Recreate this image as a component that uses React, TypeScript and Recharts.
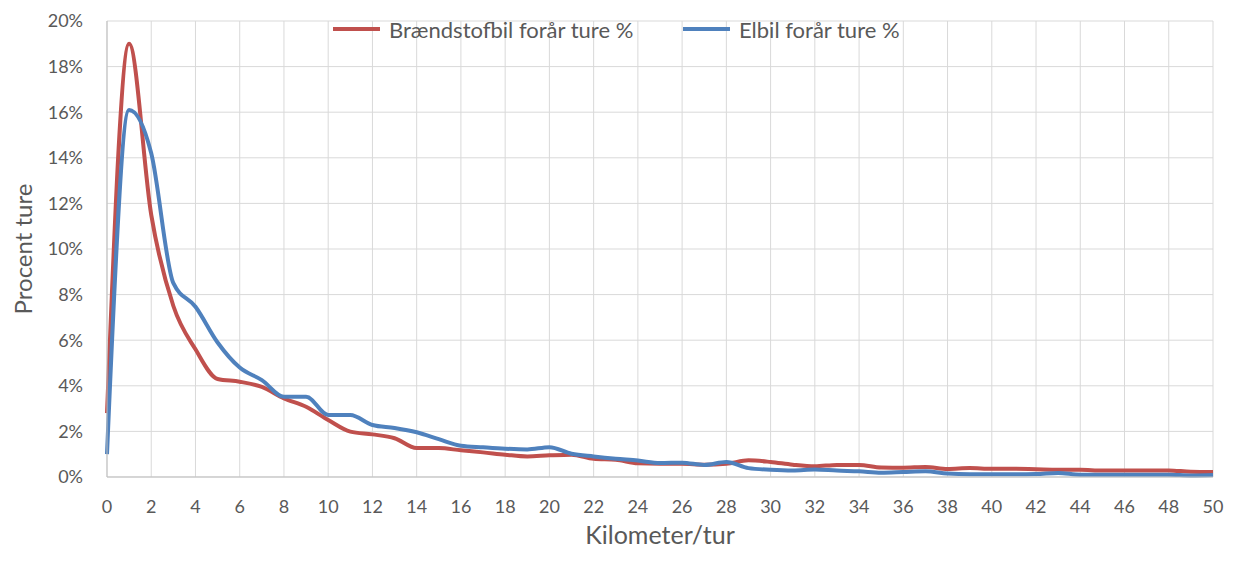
import React from "react";
import { LineChart, Line, XAxis, YAxis, CartesianGrid, Legend, Label } from "recharts";

const km = [0,1,2,3,4,5,6,7,8,9,10,11,12,13,14,15,16,17,18,19,20,21,22,23,24,25,26,27,28,29,30,31,32,33,34,35,36,37,38,39,40,41,42,43,44,45,46,47,48,49,50];
const braendstof = [2.8,19.0,11.5,7.5,5.6,4.3,4.18,3.95,3.45,3.08,2.5,1.99,1.87,1.7,1.27,1.27,1.17,1.08,0.98,0.9,0.95,0.98,0.8,0.76,0.6,0.58,0.58,0.54,0.58,0.73,0.66,0.54,0.47,0.53,0.53,0.42,0.41,0.44,0.35,0.39,0.36,0.36,0.34,0.32,0.32,0.28,0.28,0.29,0.29,0.23,0.22];
const elbil = [1.0,16.1,14.2,8.5,7.47,5.9,4.8,4.25,3.52,3.52,2.72,2.72,2.28,2.15,1.96,1.66,1.37,1.3,1.24,1.21,1.31,1.02,0.9,0.8,0.72,0.61,0.63,0.53,0.66,0.39,0.32,0.29,0.33,0.28,0.25,0.19,0.22,0.25,0.15,0.12,0.12,0.12,0.13,0.18,0.1,0.1,0.1,0.1,0.1,0.07,0.09];
const xTicks = [0,2,4,6,8,10,12,14,16,18,20,22,24,26,28,30,32,34,36,38,40,42,44,46,48,50];
const yTicks = [0,2,4,6,8,10,12,14,16,18,20];
const xDomain = [0, 50];
const seriesNames = ["Brændstofbil forår ture %", "Elbil forår ture %"];
const colors = ["#C0504D", "#4F81BD"];

const data = km.map((k, i) => ({ km: k, a: braendstof[i], b: elbil[i] }));

const FONT = "Lato, 'Open Sans', sans-serif";
const TXT = "#595959";

const verticalGen = (p: any) => {
  const s = p?.xAxis?.scale;
  if (typeof s === "function") return xTicks.map((t) => s(t));
  if (s && typeof s.map === "function") return xTicks.map((t) => s.map(t));
  const o = p.offset;
  return xTicks.map((t) => o.left + ((t - xDomain[0]) / (xDomain[1] - xDomain[0])) * o.width);
};

const LegendContent = () => (
  <div style={{ position: "relative", width: 600, height: 26, fontFamily: FONT, fontSize: 22, color: TXT }}>
    {seriesNames.map((n, i) => (
      <div key={n} style={{ position: "absolute", left: i === 0 ? 0 : 350, top: 0, display: "flex", alignItems: "center", height: 26, whiteSpace: "nowrap" }}>
        <div style={{ width: 47, height: 4, background: colors[i], marginRight: 9 }} />
        <span>{n}</span>
      </div>
    ))}
  </div>
);

export default function App() {
  return (
    <div style={{ width: 1221, height: 546, position: "relative" }}>
      <LineChart width={1221} height={546} data={data} margin={{ top: 13, right: 16, bottom: 17, left: 0 }}>
        <CartesianGrid stroke="#D9D9D9" strokeWidth={1} verticalCoordinatesGenerator={verticalGen} />
        <XAxis
          dataKey="km"
          type="number"
          domain={xDomain}
          ticks={xTicks}
          interval={0}
          height={60}
          tickLine={false}
          tickSize={6}
          tickMargin={17}
          axisLine={{ stroke: "#BFBFBF" }}
          tick={{ fill: TXT, fontSize: 18, fontFamily: FONT }}
        >
          <Label
            content={(props: any) => {
              const vb = props.viewBox;
              return (
                <text x={vb.x + vb.width / 2} y={536} textAnchor="middle" fill={TXT} fontSize={25} fontFamily={FONT}>
                  Kilometer/tur
                </text>
              );
            }}
          />
        </XAxis>
        <YAxis
          type="number"
          domain={[0, 20]}
          ticks={yTicks}
          interval={0}
          width={99}
          tickLine={false}
          tickSize={6}
          tickMargin={18}
          axisLine={{ stroke: "#BFBFBF" }}
          tickFormatter={(v: number) => `${v}%`}
          tick={{ fill: TXT, fontSize: 18, fontFamily: FONT }}
        >
          <Label
            content={(props: any) => {
              const vb = props.viewBox;
              const cy = vb.y + vb.height / 2;
              return (
                <text x={14} y={cy} transform={`rotate(-90 14 ${cy})`} textAnchor="middle" dominantBaseline="central" fill={TXT} fontSize={24} fontFamily={FONT}>
                  Procent ture
                </text>
              );
            }}
          />
        </YAxis>
        <Legend
          layout="horizontal"
          verticalAlign="middle"
          align="center"
          content={() => <LegendContent />}
          wrapperStyle={{ position: "absolute", top: 8, left: 325, width: 600, height: 26 }}
        />
        <Line type="monotone" dataKey="a" name={seriesNames[0]} stroke={colors[0]} strokeWidth={4} dot={false} isAnimationActive={false} />
        <Line type="monotone" dataKey="b" name={seriesNames[1]} stroke={colors[1]} strokeWidth={4} dot={false} isAnimationActive={false} />
      </LineChart>
    </div>
  );
}
